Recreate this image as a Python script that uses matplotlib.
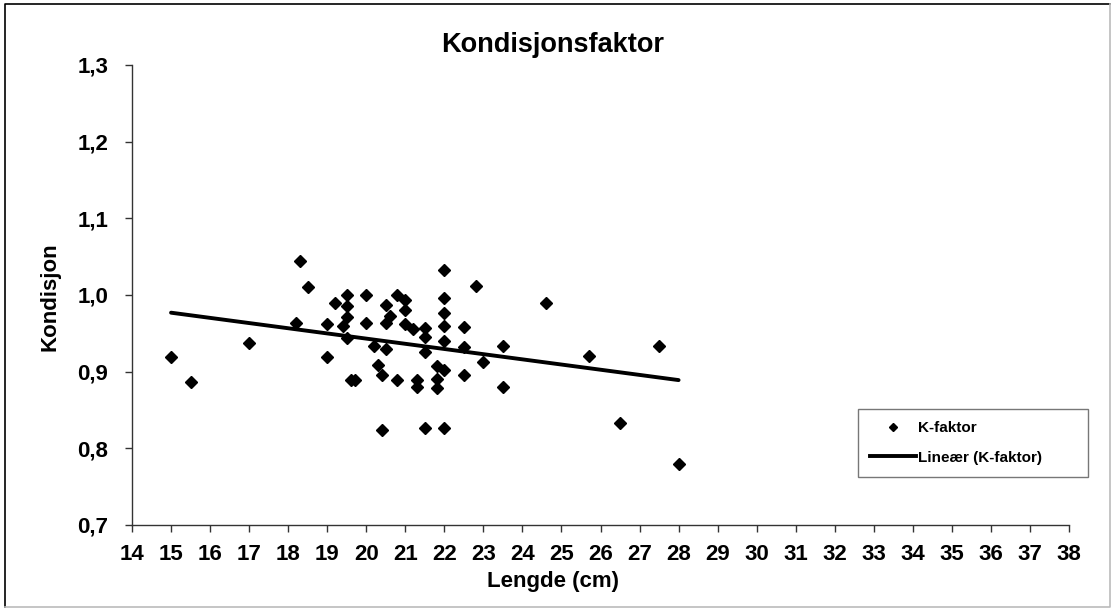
import numpy as np
import matplotlib
matplotlib.use("Agg")
import matplotlib.pyplot as plt
from matplotlib.lines import Line2D
from matplotlib.ticker import FuncFormatter

plt.rcParams["font.family"] = ["Liberation Sans", "DejaVu Sans"]
plt.rcParams["font.weight"] = "bold"

# Lengde (cm) og kondisjonsfaktor, lest av figuren
lengde = [15.0, 15.5, 17.0, 18.2, 18.3, 18.5, 19.0, 19.0, 19.2, 19.5,
          19.5, 19.5, 19.4, 19.5, 19.6, 19.7, 20.0, 20.0, 20.2, 20.3,
          20.4, 20.4, 20.5, 20.6, 20.5, 20.5, 20.8, 20.8, 21.0, 21.0,
          21.0, 21.2, 21.3, 21.3, 21.5, 21.5, 21.5, 21.5, 21.8, 21.8,
          21.8, 22.0, 22.0, 22.0, 22.0, 22.0, 22.0, 22.0, 22.5, 22.5,
          22.5, 22.8, 23.0, 23.5, 23.5, 24.6, 25.7, 26.5, 27.5, 28.0]
kfaktor = [0.919, 0.886, 0.937, 0.963, 1.044, 1.011, 0.962, 0.919, 0.990, 1.000,
           0.985, 0.971, 0.960, 0.944, 0.889, 0.889, 1.000, 0.963, 0.933, 0.909,
           0.896, 0.824, 0.987, 0.973, 0.963, 0.929, 1.000, 0.889, 0.994, 0.981,
           0.962, 0.955, 0.889, 0.880, 0.957, 0.945, 0.926, 0.826, 0.907, 0.890,
           0.879, 1.033, 0.996, 0.977, 0.959, 0.940, 0.902, 0.826, 0.958, 0.932,
           0.896, 1.012, 0.913, 0.933, 0.880, 0.989, 0.920, 0.833, 0.934, 0.780]

x_ticks = list(range(14, 39))
y_ticks = [0.7, 0.8, 0.9, 1.0, 1.1, 1.2, 1.3]

W, H = 1113, 610
fig = plt.figure(figsize=(W / 100, H / 100), dpi=100)
ax = fig.add_axes([132 / W, 1 - 525 / H, (1069 - 132) / W, (525 - 65) / H])

x = np.array(lengde)
y = np.array(kfaktor)
ax.plot(x, y, linestyle="none", marker="D", markersize=5.8, color="black")

# lineær trendlinje
coef = np.polyfit(x, y, 1)
xs = np.array([x.min(), x.max()])
ax.plot(xs, np.polyval(coef, xs), color="black", linewidth=2.8, solid_capstyle="round")

ax.set_xlim(14, 38)
ax.set_ylim(0.7, 1.3)
ax.set_xticks(x_ticks)
ax.set_yticks(y_ticks)
ax.yaxis.set_major_formatter(FuncFormatter(lambda v, p: f"{v:.1f}".replace(".", ",")))
ax.tick_params(axis="both", direction="out", length=5, width=1, color="#333333",
               labelsize=16)
ax.tick_params(axis="x", pad=9)
ax.tick_params(axis="y", pad=12)
for lab in ax.get_xticklabels() + ax.get_yticklabels():
    lab.set_fontweight("bold")
for side in ["top", "right"]:
    ax.spines[side].set_visible(False)
for side in ["left", "bottom"]:
    ax.spines[side].set_color("#333333")
    ax.spines[side].set_linewidth(1)

fig.text(553 / W, 1 - 45 / H, "Kondisjonsfaktor", ha="center", va="center",
         fontsize=19.5, fontweight="bold")
fig.text(553 / W, 1 - 582 / H, "Lengde (cm)", ha="center", va="center",
         fontsize=16, fontweight="bold")
fig.text(50 / W, 1 - 297 / H, "Kondisjon", ha="center", va="center",
         rotation=90, fontsize=16, fontweight="bold")

handles = [
    Line2D([], [], linestyle="none", marker="D", markersize=4, color="black"),
    Line2D([], [], color="black", linewidth=2.8),
]
leg = fig.legend(handles, ["K-faktor", "Lineær (K-faktor)"],
                 loc="lower left", mode="expand",
                 bbox_to_anchor=(858 / W, 1 - 477 / H, (1088 - 858) / W, 67 / H),
                 prop={"size": 11, "weight": "bold"}, frameon=True,
                 fancybox=False, edgecolor="#555555", borderpad=0.8,
                 handlelength=3.0, handletextpad=0.1, labelspacing=1.0,
                 borderaxespad=0)
leg.get_frame().set_linewidth(1)

# ramme rundt diagrammet
fig.add_artist(Line2D([5 / W, 5 / W, 1110 / W], [1 - 607 / H, 1 - 4 / H, 1 - 4 / H],
                      color="black", linewidth=1.2))
fig.add_artist(Line2D([5 / W, 1110 / W, 1110 / W], [1 - 607 / H, 1 - 607 / H, 1 - 4 / H],
                      color="#bbbbbb", linewidth=1.2))

fig.savefig("out.png", dpi=100)
